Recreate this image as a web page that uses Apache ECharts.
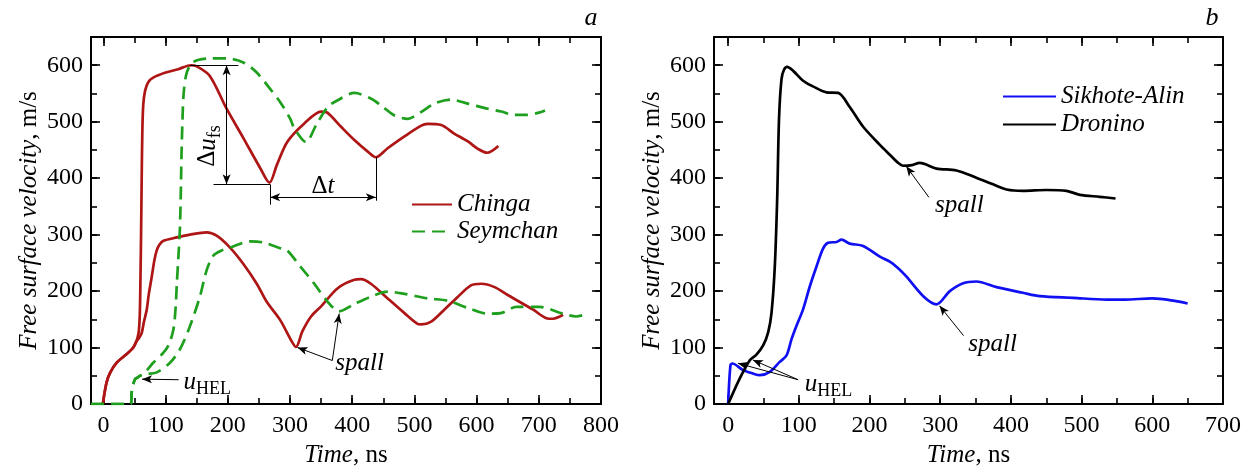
<!DOCTYPE html>
<html><head><meta charset="utf-8">
<script src="https://cdn.jsdelivr.net/npm/echarts@6/dist/echarts.min.js"></script>
<style>html,body{margin:0;padding:0;background:#fff}#c{width:1252px;height:473px}</style>
</head><body><div id="c"></div>
<script>
// ---------- Panel a ----------
const chingaHighT = [-1,5,11,21,37,48,53,55,57,58.5,59.5,60.5,61.5,62.5,64,67,72,80,100,120,141,150,171,198,225,252,267,279,296,323,350,360,382,403,425,438,457,484,511,521,543,564,586,602,617,635];
const chingaHighV = [0,38,56,73,88,100,111,118,130,160,220,300,400,480,530,555,570,578,587,593,600,598,581,523,471,418,392,424,465,497,518,516,491,468,447,437,453,474,493,496,494,479,465,452,445,457];
const chingaLowT = [-1,5,11,21,37,48,53,58,61.6,65,69.6,73,77.6,82,85.7,90,96.5,118,139,166,182,203.5,225,246.5,262.5,284,302.7,309.6,320,333.8,350,376.7,403.5,414,430,457,484,505,511,527,548,570,591,607,629,650,691,712,723,739];
const chingaLowV = [0,38,56,73,88,100,111,118,126,145,167,195,225,255,272,282,289,295,300,304,298,277,248,213,181,149,111,101,129,155,173,205,220,221,213,187,161,142,141,146,167,190,210,213,207,193,167,152,151,158];
const seymHighT = [-20,0,20,40,44,45.5,48,50.8,55,59,70,80,96.5,105,112.5,116,118,120.5,123,124.5,125.5,127,129,134,144.7,171,198,225,246.5,268,284,300,307,325.7,342,360.6,376.7,403.5,430,446,468,489,510.6,532,559,586,618,640,660,680,700,710];
const seymHighV = [0,0,0,0,0,21,35,44,47,50,60,73,91,105,132,170,213,260,312,380,440,500,550,587,606,612,612,605,587,558,535,506,488,464,494,526,538,551,541,529,511,505,517,532,539,532,523,518,512,512,516,520];
const seymLowT = [-20,0,20,40,44,45.5,48,50.8,55,59,70,85.7,107,123,139,155,166,176.8,190,203.5,235.7,257,289,296,317.7,339,360.6,379,403.5,430,457,484,521,553.5,586,618,639,664,701,739,760,779];
const seymLowV = [0,0,0,0,0,21,35,44,47,50,53,56,73,97,137.5,190,237,263,272,277,288,286,274,271.5,242,213,181,164,177,190,199,195,187,183,170,160,161,172,172,160,155,160];
// ---------- Panel b ----------
const droninoT = [0,16.5,30.7,40,49.5,56.6,61.4,66,69.3,72,75.5,79,83.5,92,106,120,139,155.6,172,191,214.6,228.7,240.5,247.5,260,271,294.8,323,351,374.8,393.8,417,450,478.6,497.5,525.7,548];
const droninoV = [0,45.5,77.6,87.4,103.8,127,162,243.6,360,505.7,575.5,592,597,590,572.6,562.6,552,551,526,491,459,441.5,427,422,423,427,417,413.6,400.8,389,380,377.5,379,377.5,370.5,367,364];
const sikhoteT = [0,3.3,6,21,35,44.8,59,73,82.6,89.7,96.7,106,115.6,125,134.4,141.4,153.3,160.4,172,191,214.6,228.7,240.5,252,276,294.8,313.6,332.4,351,379.6,417,441,488,535,561,600,630,650];
const sikhoteV = [0,68.8,71.7,60,54,51,57,74.6,86,115,138.7,167.7,208.6,243.6,275.6,285.5,287,291,284,280,261,252,240.6,226,191,176.5,200,214,217,207,197,191,188,185,185,187,183,178];
// ---------- Axes ticks ----------
const xTicksA = [0,100,200,300,400,500,600,700,800];
const xMinorA = [0,50,100,150,200,250,300,350,400,450,500,550,600,650,700,750,800];
const xTicksB = [0,100,200,300,400,500,600,700];
const xMinorB = [0,50,100,150,200,250,300,350,400,450,500,550,600,650,700];
const yTicks = [0,100,200,300,400,500,600];
const yMinor = [0,50,100,150,200,250,300,350,400,450,500,550,600,650];

const FONT = '"Liberation Serif","Times New Roman",serif';
const pairs = (T,V) => T.map((t,i)=>[t,V[i]]);
const TITLE_FS = 25;
const richI = {i:{fontStyle:'italic',fontFamily:FONT,fontSize:TITLE_FS,color:'#000'}};

function xAxes(grid, min, max, ticks, minor){
  const base = {type:'value', gridIndex:grid, min:min, max:max, splitLine:{show:false}};
  return [
    Object.assign({}, base, {position:'bottom',
      axisLine:{show:true,onZero:false,lineStyle:{color:'#000',width:2}},
      axisTick:{show:true,inside:true,length:9,customValues:ticks,lineStyle:{color:'#000',width:1.6}},
      axisLabel:{show:true,customValues:ticks,fontFamily:FONT,fontSize:24,color:'#000',margin:10},
      name:'{i|Time}, ns', nameLocation:'middle', nameGap:39,
      nameTextStyle:{fontFamily:FONT,fontSize:TITLE_FS,color:'#000',rich:richI}}),
    Object.assign({}, base, {position:'bottom',
      axisLine:{show:false,onZero:false},
      axisTick:{show:true,inside:true,length:6,customValues:minor,lineStyle:{color:'#000',width:1.6}},
      axisLabel:{show:false}}),
    Object.assign({}, base, {position:'top',
      axisLine:{show:true,onZero:false,lineStyle:{color:'#000',width:2}},
      axisTick:{show:true,inside:true,length:9,customValues:ticks,lineStyle:{color:'#000',width:1.6}},
      axisLabel:{show:false}}),
    Object.assign({}, base, {position:'top',
      axisLine:{show:false,onZero:false},
      axisTick:{show:true,inside:true,length:6,customValues:minor,lineStyle:{color:'#000',width:1.6}},
      axisLabel:{show:false}})
  ];
}
function yAxes(grid){
  const base = {type:'value', gridIndex:grid, min:0, max:650, splitLine:{show:false}};
  return [
    Object.assign({}, base, {position:'left',
      axisLine:{show:true,onZero:false,lineStyle:{color:'#000',width:2}},
      axisTick:{show:true,inside:true,length:9,customValues:yTicks,lineStyle:{color:'#000',width:1.6}},
      axisLabel:{show:true,customValues:yTicks,fontFamily:FONT,fontSize:24,color:'#000',margin:8},
      name:'{i|Free surface velocity}, m/s', nameLocation:'middle', nameGap:49, nameRotate:90,
      nameTextStyle:{fontFamily:FONT,fontSize:TITLE_FS,color:'#000',rich:richI}}),
    Object.assign({}, base, {position:'left',
      axisLine:{show:false,onZero:false},
      axisTick:{show:true,inside:true,length:6,customValues:yMinor,lineStyle:{color:'#000',width:1.6}},
      axisLabel:{show:false}}),
    Object.assign({}, base, {position:'right',
      axisLine:{show:true,onZero:false,lineStyle:{color:'#000',width:2}},
      axisTick:{show:true,inside:true,length:9,customValues:yTicks,lineStyle:{color:'#000',width:1.6}},
      axisLabel:{show:false}}),
    Object.assign({}, base, {position:'right',
      axisLine:{show:false,onZero:false},
      axisTick:{show:true,inside:true,length:6,customValues:yMinor,lineStyle:{color:'#000',width:1.6}},
      axisLabel:{show:false}})
  ];
}

const RED='#AE1515', GREEN='#1E9F1E', BLUE='#1010F2', BLACK='#000000';
function line(name, data, xi, yi, color, dashed){
  return {name:name, type:'line', data:data, xAxisIndex:xi, yAxisIndex:yi,
    showSymbol:false, symbol:'none', smooth:0.3, z:3,
    lineStyle:{color:color, width:2.7, type: dashed ? [13,7] : 'solid'},
    itemStyle:{color:color}};
}

// annotation definitions (data coordinates)
const seg = (a,b,s0,s1)=>[{coord:a,symbol:s0||'none'},{coord:b,symbol:s1||'none'}];
const annLinesA = [
  seg([139,600],[217,600]),
  seg([177,389],[268,389]),
  seg([198,389],[198,600],'arrow','arrow'),
  seg([268,389],[268,353]),
  seg([438,437],[438,360]),
  seg([268,366],[438,366],'arrow','arrow'),
  seg([368,77],[312,100],'none','arrow'),
  seg([368,77],[379,160],'none','arrow'),
  seg([121,43],[62,44],'none','arrow')
];
const annLinesB = [
  seg([99,43],[14,72],'none','arrow'),
  seg([99,43],[35,78],'none','arrow'),
  seg([284,366],[252,421],'none','arrow'),
  seg([333,121],[299,174],'none','arrow')
];
const subRich = {
  i:{fontStyle:'italic',fontFamily:FONT,fontSize:25,color:'#000'},
  n:{fontFamily:FONT,fontSize:25,color:'#000'},
  sub:{fontFamily:FONT,fontSize:18,color:'#000',padding:[15,0,0,0]}
};
function txt(c, f, extra){
  return {coord:c, label:Object.assign({show:true, position:'inside', formatter:f, rich:subRich,
    color:'#000', fontFamily:FONT, fontSize:25}, extra||{})};
}
const annTextA = [
  txt([412,72],'{i|spall}'),
  txt([167,39],'{i|u}{sub|HEL}'),
  txt([353,386],'{n|Δ}{i|t}'),
  txt([168,457],'{n|Δ}{i|u}{sub|fs}',{rotate:90})
];
const annTextB = [
  txt([142,35],'{i|u}{sub|HEL}'),
  txt([327,351],'{i|spall}'),
  txt([374,106],'{i|spall}')
];
function annSeries(xi, yi, lines, texts){
  return {name:'_ann'+xi, type:'line', data:[], xAxisIndex:xi, yAxisIndex:yi, silent:true, z:5,
    markLine:{silent:true, symbolSize:[6,10], animation:false, label:{show:false},
      lineStyle:{color:'#000', width:1, type:'solid'}, emphasis:{disabled:true}, data:lines},
    markPoint:{silent:true, symbol:'circle', symbolSize:1, animation:false,
      itemStyle:{color:'rgba(0,0,0,0)'}, data:texts}};
}

const legendCommon = {orient:'vertical', itemHeight:14, selectedMode:false,
  itemStyle:{color:'rgba(0,0,0,0)', borderWidth:0, opacity:0},
  textStyle:{fontFamily:FONT,fontStyle:'italic',fontSize:25,color:'#000'}};

const chart = echarts.init(document.getElementById('c'), null, {renderer:'canvas'});
chart.setOption({
  animation:false,
  backgroundColor:'#fff',
  grid:[{left:91, top:37, width:510, height:372},
        {left:714, top:37, width:509, height:372}],
  xAxis: xAxes(0,-20,800,xTicksA,xMinorA).concat(xAxes(1,-20,700,xTicksB,xMinorB)),
  yAxis: yAxes(0).concat(yAxes(1)),
  legend:[
    Object.assign({data:['Chinga','Seymchan'], left:406, top:187, itemWidth:40, itemGap:2}, legendCommon),
    Object.assign({data:['Sikhote-Alin','Dronino'], left:997, top:79, itemWidth:53, itemGap:3}, legendCommon)
  ],
  graphic:[
    {type:'text', x:591, y:18, style:{text:'a', fontFamily:FONT, fontStyle:'italic', fontSize:26, fill:'#000', textAlign:'center', textVerticalAlign:'middle'}},
    {type:'text', x:1212, y:18, style:{text:'b', fontFamily:FONT, fontStyle:'italic', fontSize:26, fill:'#000', textAlign:'center', textVerticalAlign:'middle'}}
  ],
  series:[
    line('Chinga', pairs(chingaHighT,chingaHighV), 0, 0, RED, false),
    line('Chinga', pairs(chingaLowT,chingaLowV), 0, 0, RED, false),
    line('Seymchan', pairs(seymHighT,seymHighV), 0, 0, GREEN, true),
    line('Seymchan', pairs(seymLowT,seymLowV), 0, 0, GREEN, true),
    line('Sikhote-Alin', pairs(sikhoteT,sikhoteV), 4, 4, BLUE, false),
    line('Dronino', pairs(droninoT,droninoV), 4, 4, BLACK, false),
    annSeries(0,0,annLinesA,annTextA),
    annSeries(4,4,annLinesB,annTextB)
  ]
});
</script></body></html>
